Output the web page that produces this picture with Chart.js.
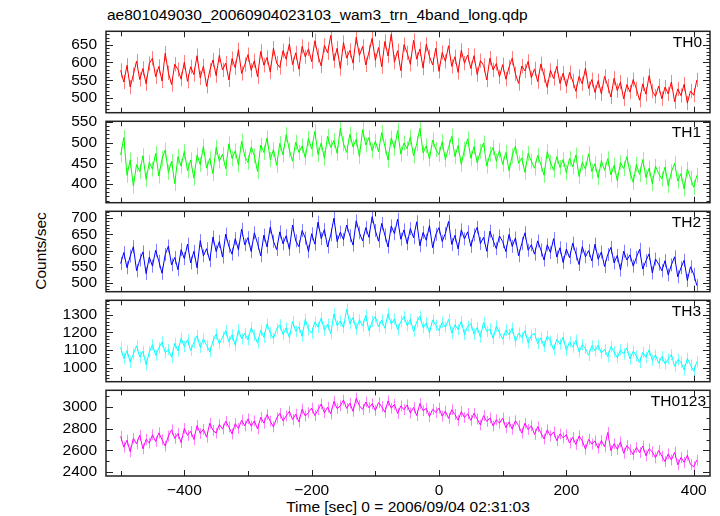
<!DOCTYPE html>
<html>
<head>
<meta charset="utf-8">
<script src="https://cdn.jsdelivr.net/npm/chart.js@4.4.1/dist/chart.umd.min.js"></script>
<style>
    html, body { margin: 0; padding: 0; background: #fff; }
    #wrap { position: relative; width: 720px; height: 516px; overflow: hidden;
            font-family: 'Liberation Sans', Arial, sans-serif; color: #000; }
    #wrap canvas { position: absolute; left: 0; }
    .txt { position: absolute; font-size: 15.5px; line-height: 16px; white-space: nowrap; }
</style>
</head>
<body>
<div id="wrap">
    <div class="txt" style="left:107px;top:6.5px">ae801049030_20060904023103_wam3_trn_4band_long.qdp</div>
    <div class="txt" style="left:41px;top:251px;transform:translate(-50%,-50%) rotate(-90deg)">Counts/sec</div>
    <div class="txt" style="left:106px;width:604px;text-align:center;top:498.5px">Time [sec] 0 = 2006/09/04 02:31:03</div>
</div>
<script>
// time bins: every 5 s starting at -500 s
const T_START = -500;
const T_STEP = 5;

// count rates (one row = 50 s)
const th0 = [
    578, 545, 592, 531, 566, 604, 552, 583, 540, 597,
    612, 560, 589, 548, 626, 571, 538, 595, 580, 553,
    601, 547, 588, 566, 619, 557, 590, 533, 578, 607,
    563, 620, 579, 598, 551, 611, 585, 636, 569, 594,
    622, 578, 605, 560, 631, 592, 614, 573, 640, 598,
    586, 633, 609, 652, 594, 627, 581, 645, 616, 638,
    602, 661, 619, 590, 648, 627, 676, 605, 640, 583,
    656, 612, 634, 598, 671, 620, 645, 593, 629, 668,
    606, 642, 588, 659, 618, 680, 601, 633, 577, 650,
    627, 595, 662, 609, 638, 584, 651, 617, 593, 640,
    575, 628, 603, 647, 589, 616, 572, 634, 598, 621,
    583, 619, 566, 605, 592, 551, 612, 579, 597, 560,
    594, 553, 587, 612, 568, 541, 590, 576, 603, 557,
    582, 546, 596, 563, 530, 578, 555, 589, 541, 570,
    533, 572, 548, 519, 561, 540, 584, 527, 552, 516,
    549, 512, 561, 534, 503, 556, 521, 545, 498, 538,
    517, 552, 526, 494, 540, 511, 563, 520, 505, 534,
    498, 531, 512, 545, 490, 526, 507, 539, 486, 520,
    508, 551
];
const th1 = [
    470, 512, 421, 458, 395, 447, 430, 468, 411, 452,
    436, 474, 419, 461, 482, 428, 455, 401, 466, 443,
    479, 432, 458, 414, 470, 447, 491, 438, 462, 425,
    488, 455, 472, 437, 497, 461, 480, 446, 503, 466,
    452, 489, 468, 430, 494, 476, 511, 459, 483, 445,
    498, 470, 519, 482, 455, 501, 476, 492, 463, 510,
    484, 527, 471, 499, 462, 515, 488, 505, 474, 534,
    497, 476, 520, 489, 508, 466, 531, 494, 512, 480,
    503, 478, 524, 491, 458, 511, 486, 529, 472, 499,
    485, 513, 468, 497, 534, 475, 492, 460, 506, 483,
    471, 502, 459, 488, 515, 466, 493, 447, 484, 509,
    462, 490, 451, 479, 499, 443, 472, 488, 455, 481,
    447, 476, 432, 468, 491, 450, 463, 428, 474, 455,
    438, 469, 447, 421, 478, 452, 433, 466, 440, 459,
    427, 462, 441, 470, 418, 452, 436, 473, 430, 449,
    415, 456, 433, 461, 422, 445, 408, 452, 437, 466,
    428, 404, 447, 423, 459, 416, 438, 401, 443, 425,
    412, 441, 396, 429, 450, 407, 425, 388, 436, 414,
    392, 421
];
const th2 = [
    560, 594, 547, 583, 612, 538, 571, 596, 529, 580,
    552, 601, 567, 530, 588, 614, 556, 579, 541, 603,
    575, 620, 562, 598, 547, 631, 584, 606, 569, 642,
    597, 628, 580, 651, 613, 589, 637, 602, 666, 618,
    640, 597, 655, 622, 584, 648, 611, 673, 629, 603,
    658, 621, 646, 604, 679, 630, 612, 662, 639, 597,
    652, 620, 688, 637, 665, 611, 649, 700, 628, 657,
    634, 679, 646, 617, 692, 655, 630, 671, 641, 705,
    662, 629, 684, 648, 611, 676, 652, 697, 635, 664,
    621, 668, 640, 689, 615, 656, 632, 677, 609, 650,
    671, 628, 653, 690, 619, 647, 605, 664, 636, 658,
    613, 649, 672, 622, 641, 598, 660, 631, 606, 645,
    628, 597, 650, 613, 639, 584, 622, 655, 601, 618,
    589, 630, 602, 571, 618, 594, 637, 580, 609, 563,
    605, 578, 623, 590, 557, 612, 581, 600, 568, 620,
    573, 596, 551, 588, 610, 562, 585, 540, 598, 571,
    587, 552, 579, 604, 543, 569, 590, 531, 574, 558,
    538, 569, 525, 556, 581, 519, 547, 570, 508, 550,
    527, 492
];
const th3 = [
    1115, 1052, 1096, 1031, 1078, 1124, 1060, 1093, 1017, 1088,
    1130, 1071, 1112, 1146, 1085, 1103, 1059, 1138, 1094, 1167,
    1120, 1158, 1097, 1142, 1181, 1115, 1163, 1126, 1089, 1150,
    1190, 1135, 1172, 1209, 1148, 1186, 1127, 1214, 1163, 1195,
    1157, 1226, 1183, 1140, 1211, 1172, 1248, 1196, 1165, 1219,
    1243, 1188, 1225, 1170, 1262, 1206, 1231, 1178, 1274, 1215,
    1196, 1258, 1229, 1281, 1212, 1246, 1193, 1304, 1238, 1265,
    1227, 1332, 1250, 1284, 1219, 1271, 1236, 1296, 1208, 1262,
    1289, 1231, 1270, 1223, 1305, 1247, 1276, 1215, 1262, 1290,
    1238, 1274, 1206, 1259, 1292, 1227, 1253, 1198, 1271, 1240,
    1210, 1257, 1229, 1274, 1195, 1243, 1216, 1262, 1188, 1235,
    1249, 1190, 1228, 1173, 1256, 1205, 1219, 1166, 1236, 1198,
    1162, 1213, 1187, 1224, 1148, 1196, 1170, 1209, 1141, 1183,
    1194, 1137, 1168, 1120, 1179, 1150, 1102, 1161, 1133, 1172,
    1098, 1146, 1117, 1155, 1089, 1130, 1108, 1070, 1124, 1095,
    1127, 1083, 1104, 1062, 1119, 1090, 1057, 1101, 1078, 1112,
    1049, 1093, 1066, 1030, 1087, 1058, 1101, 1041, 1072, 1025,
    1063, 1021, 1049, 1074, 1008, 1045, 1031, 987, 1052, 1016,
    980, 1034
];
const th0123 = [
    2730, 2630, 2695, 2588, 2712, 2660, 2741, 2615, 2702, 2668,
    2745, 2681, 2762, 2699, 2640, 2733, 2790, 2710, 2756, 2672,
    2803, 2738, 2776, 2701, 2829, 2757, 2795, 2722, 2851, 2784,
    2760, 2838, 2797, 2869, 2815, 2752, 2846, 2802, 2878, 2826,
    2891, 2824, 2872, 2798, 2905, 2851, 2930, 2869, 2817, 2899,
    2942, 2873, 2918, 2960, 2885, 2934, 2862, 2981, 2917, 2949,
    2990, 2921, 2975, 3028, 2946, 2998, 2937, 3052, 2985, 3011,
    3064, 2987, 3035, 2960, 3081, 3012, 2978, 3046, 2993, 3030,
    2968, 3041, 3003, 2952, 3057, 2989, 3024, 2940, 3010, 2975,
    3019, 2944, 2996, 2921, 3032, 2966, 2988, 2912, 2979, 2951,
    2990, 2916, 2962, 2895, 2975, 2931, 2878, 2957, 2903, 2938,
    2876, 2942, 2889, 2834, 2921, 2867, 2900, 2825, 2883, 2851,
    2898, 2810, 2862, 2796, 2874, 2829, 2760, 2851, 2793, 2827,
    2748, 2819, 2762, 2705, 2790, 2734, 2771, 2690, 2752, 2716,
    2745, 2668, 2721, 2655, 2734, 2687, 2612, 2702, 2659, 2688,
    2620, 2691, 2633, 2765, 2598, 2662, 2611, 2679, 2574, 2645,
    2607, 2563, 2628, 2580, 2641, 2551, 2616, 2587, 2532, 2601,
    2548, 2497, 2569, 2512, 2584, 2468, 2535, 2490, 2556, 2471,
    2450, 2512
];
// 1-sigma error per bin, by band
const bandErrors = [20, 18, 20, 32, 50];

const bandNames = ['TH0', 'TH1', 'TH2', 'TH3', 'TH0123'];
const bandColors = ['#ff0000', '#00ff00', '#0000ff', '#00ffff', '#ff00ff'];
const errColors = ['rgba(255,0,0,0.5)', 'rgba(0,255,0,0.5)', 'rgba(0,0,255,0.5)',
                   'rgba(0,255,255,0.55)', 'rgba(255,0,255,0.5)'];

// axes
const yMins = [459.1, 355, 473.2, 920.4, 2364.8];
const yMaxs = [687.4, 551.1, 721.3, 1381.7, 3153.8];
const yTickLabels = [
    [500, 550, 600, 650],
    [400, 450, 500, 550],
    [500, 550, 600, 650, 700],
    [1000, 1100, 1200, 1300],
    [2400, 2600, 2800, 3000]
];
const yMinorSteps = [10, 10, 10, 20, 100];
const xTickLabels = [-400, -200, 0, 200, 400];
const xMinorTicks = [-500, -300, -100, 100, 300];
const X_MIN = -523;
const X_MAX = 425.6;

// panel layout (px)
const panelTops = [27, 117, 207, 296, 386, 476];
const labelRight = [702, 701, 701, 701, 706];
const PAD = 14;

const FONT = "'Liberation Sans', Arial, sans-serif";
Chart.defaults.font.family = FONT;
Chart.defaults.font.size = 15.5;
Chart.defaults.color = '#000';

const fmt = v => (v < 0 ? '\u2212' + Math.abs(v) : String(v));

const panelDecor = {
    id: 'panelDecor',
    beforeDatasetsDraw(chart, args, opts) {
        // error bars
        const k = opts.index;
        const { ctx, chartArea: a } = chart;
        const x = chart.scales.x, y = chart.scales.y;
        const vals = allSeries[k], e = bandErrors[k];
        ctx.save();
        ctx.beginPath();
        ctx.rect(a.left, a.top, a.right - a.left, a.bottom - a.top);
        ctx.clip();
        ctx.strokeStyle = errColors[k];
        ctx.lineWidth = 1;
        ctx.beginPath();
        vals.forEach((v, j) => {
            const px = Math.round(x.getPixelForValue(T_START + j * T_STEP)) + 0.5;
            ctx.moveTo(px, y.getPixelForValue(v - e));
            ctx.lineTo(px, y.getPixelForValue(v + e));
        });
        ctx.stroke();
        ctx.restore();
    },
    afterDraw(chart, args, opts) {
        const k = opts.index;
        const { ctx, chartArea: a } = chart;
        const x = chart.scales.x, y = chart.scales.y;
        ctx.save();
        ctx.strokeStyle = '#222';
        ctx.lineWidth = 1.5;
        ctx.strokeRect(a.left, a.top, a.right - a.left, a.bottom - a.top);

        ctx.lineWidth = 1;
        ctx.beginPath();
        // y ticks, inward on both sides
        const st = yMinorSteps[k];
        for (let v = Math.ceil(y.min / st) * st; v <= y.max; v += st) {
            const py = Math.round(y.getPixelForValue(v)) + 0.5;
            const len = yTickLabels[k].includes(v) ? 7 : 3.5;
            ctx.moveTo(a.left, py); ctx.lineTo(a.left + len, py);
            ctx.moveTo(a.right, py); ctx.lineTo(a.right - len, py);
        }
        // x ticks, inward at top and bottom
        const xt = xTickLabels.map(v => [v, 6]).concat(xMinorTicks.map(v => [v, 5]));
        xt.forEach(([v, len]) => {
            const px = Math.round(x.getPixelForValue(v)) + 0.5;
            ctx.moveTo(px, a.top); ctx.lineTo(px, a.top + len);
            ctx.moveTo(px, a.bottom); ctx.lineTo(px, a.bottom - len);
        });
        ctx.stroke();

        ctx.fillStyle = '#000';
        ctx.font = '15.5px ' + FONT;
        ctx.textAlign = 'right';
        ctx.textBaseline = 'alphabetic';
        ctx.fillText(bandNames[k], labelRight[k], a.top + 16);
        ctx.restore();
    }
};

const allSeries = [th0, th1, th2, th3, th0123];
const wrap = document.getElementById('wrap');

allSeries.forEach((vals, k) => {
    const top = panelTops[k];
    const h = panelTops[k + 1] - top;
    const last = k === allSeries.length - 1;
    const cvH = h + PAD + (last ? 30 : PAD);

    const cv = document.createElement('canvas');
    cv.width = 720;
    cv.height = cvH;
    cv.style.width = '720px';
    cv.style.height = cvH + 'px';
    cv.style.top = (top - PAD) + 'px';
    wrap.appendChild(cv);

    new Chart(cv, {
        type: 'line',
        data: {
            datasets: [{
                data: vals.map((v, j) => ({ x: T_START + j * T_STEP, y: v })),
                borderColor: bandColors[k],
                borderWidth: 1,
                pointRadius: 0,
                tension: 0
            }]
        },
        options: {
            responsive: false,
            animation: false,
            events: [],
            layout: { padding: { left: 0, right: 10, top: PAD, bottom: last ? 0 : PAD } },
            plugins: {
                legend: { display: false },
                tooltip: { enabled: false },
                panelDecor: { index: k }
            },
            scales: {
                x: {
                    type: 'linear',
                    display: last,
                    min: X_MIN,
                    max: X_MAX,
                    bounds: 'data',
                    grid: { display: false, drawTicks: false },
                    border: { display: false },
                    ticks: { padding: 5, maxRotation: 0, autoSkip: false, callback: fmt },
                    afterBuildTicks: s => { s.ticks = xTickLabels.map(v => ({ value: v })); },
                    afterFit: s => { if (last) s.height = 30; }
                },
                y: {
                    type: 'linear',
                    min: yMins[k],
                    max: yMaxs[k],
                    bounds: 'data',
                    grid: { display: false, drawTicks: false },
                    border: { display: false },
                    ticks: { padding: 9, autoSkip: false, callback: fmt },
                    afterBuildTicks: s => { s.ticks = yTickLabels[k].map(v => ({ value: v })); },
                    afterFit: s => { s.width = 106; }
                }
            }
        },
        plugins: [panelDecor]
    });
});
</script>
</body>
</html>
